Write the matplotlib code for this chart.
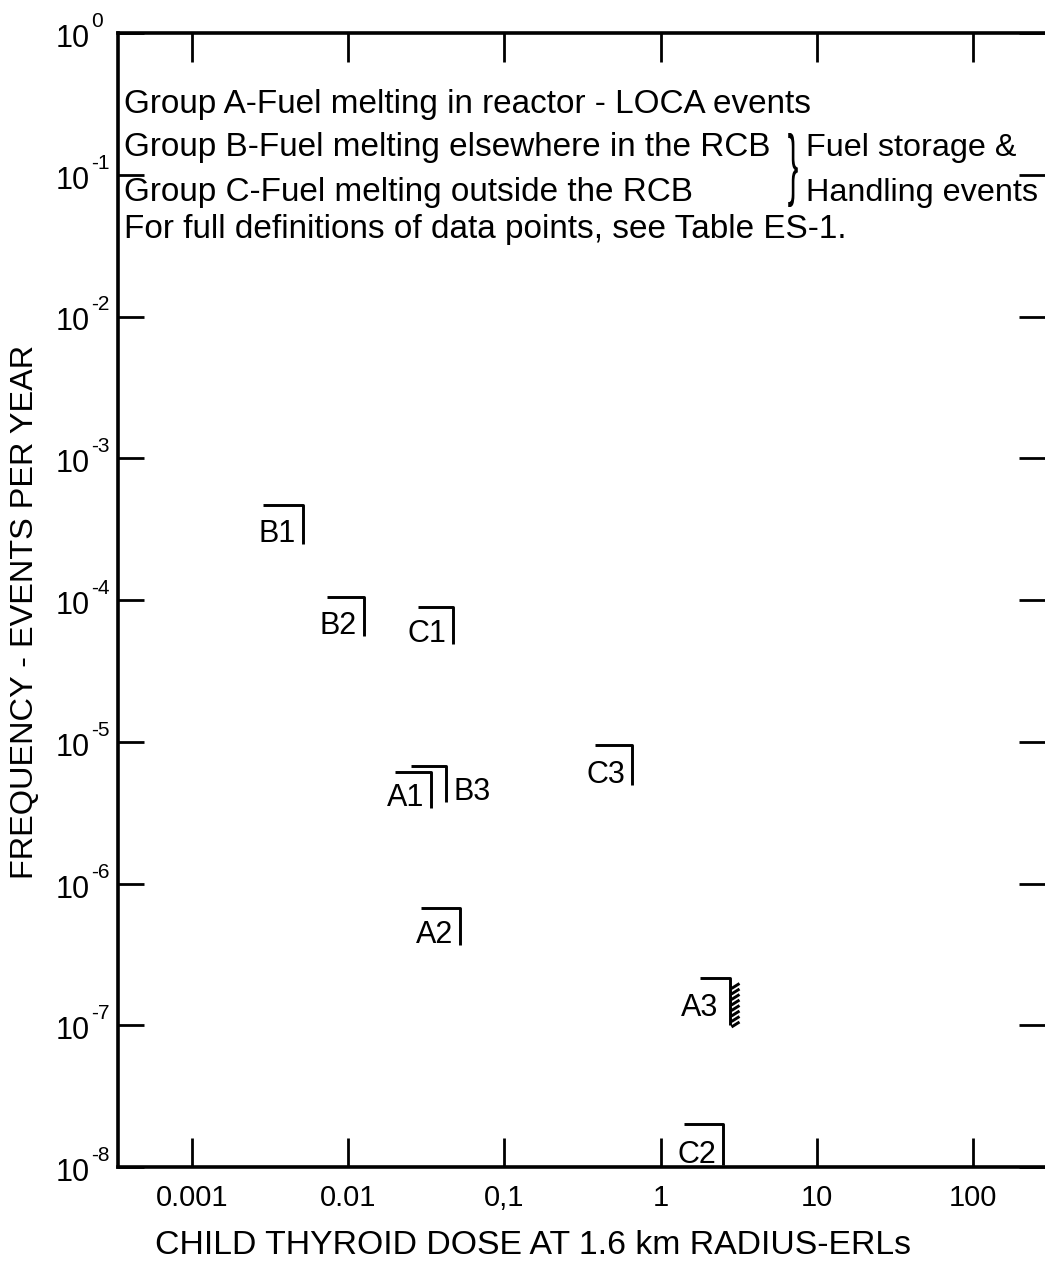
import numpy as np
import matplotlib
matplotlib.use('Agg')
import matplotlib.pyplot as plt
from matplotlib.path import Path
from matplotlib.markers import MarkerStyle
from matplotlib.textpath import TextPath
from matplotlib.patches import PathPatch
from matplotlib.font_manager import FontProperties
from matplotlib.ticker import NullLocator, FixedLocator, FixedFormatter
import matplotlib.transforms as mtransforms

# ---------------- data ----------------
labels = ['B1', 'B2', 'C1', 'A1', 'B3', 'C3', 'A2', 'A3', 'C2']
dose = [0.0051, 0.0126, 0.047, 0.034, 0.042, 0.66, 0.052, 2.8, 2.5]
freq = [4.7e-4, 1.05e-4, 8.9e-5, 6.1e-6, 6.75e-6, 9.5e-6, 6.7e-7, 2.15e-7, 2.0e-8]

x_ticks = [0.001, 0.01, 0.1, 1, 10, 100]
x_ticklabels = ['0.001', '0.01', '0,1', '1', '10', '100']
y_exponents = [0, -1, -2, -3, -4, -5, -6, -7, -8]
y_base = '10'
y_sup = ['0', '-1', '-2', '-3', '-4', '-5', '-6', '-7', '-8']

legend_lines = [
    'Group A-Fuel melting in reactor - LOCA events',
    'Group B-Fuel melting elsewhere in the RCB',
    'Group C-Fuel melting outside the RCB',
    'For full definitions of data points, see Table ES-1.',
]
legend_side = ['Fuel storage &', 'Handling events']
xlabel = 'CHILD THYROID DOSE AT 1.6 km RADIUS-ERLs'
ylabel = 'FREQUENCY - EVENTS PER YEAR'

# ---------------- style ----------------
W, H = 1045, 1279
REG = ['Liberation Sans', 'DejaVu Sans']
plt.rcParams['font.family'] = REG

fig = plt.figure(figsize=(W / 100, H / 100), dpi=100)
left_px, right_px, top_px, bot_px = 118, 1045, 33, 1167
ax = fig.add_axes([left_px / W, 1 - bot_px / H, (right_px - left_px) / W, (bot_px - top_px) / H])
ax.set_xscale('log')
ax.set_yscale('log')
ax.set_xlim(10 ** -3.474, 10 ** 2.461)
ax.set_ylim(1e-8, 1)
ax.spines['right'].set_visible(False)
for s in ['left', 'top', 'bottom']:
    ax.spines[s].set_linewidth(2.6)

ax.xaxis.set_major_locator(FixedLocator(x_ticks))
ax.xaxis.set_major_formatter(FixedFormatter(x_ticklabels))
ax.yaxis.set_major_locator(FixedLocator([10.0 ** e for e in y_exponents]))
ax.xaxis.set_minor_locator(NullLocator())
ax.yaxis.set_minor_locator(NullLocator())
ax.tick_params(axis='x', which='major', direction='in', length=21, width=2.0,
               top=True, bottom=True, labelsize=21, pad=12)
ax.tick_params(axis='y', which='major', direction='in', length=19, width=2.0,
               left=True, right=True, labelleft=False)

# y tick labels: "10" with a superscript exponent
for e, sup in zip(y_exponents, y_sup):
    ax.annotate(y_base, xy=(0, 10.0 ** e), xycoords=('axes fraction', 'data'),
                xytext=(-28, -6), textcoords='offset pixels', ha='right', va='center',
                fontsize=22)
    ax.annotate(sup, xy=(0, 10.0 ** e), xycoords=('axes fraction', 'data'),
                xytext=(-27, 6), textcoords='offset pixels', ha='left', va='baseline',
                fontsize=15)

# ---------------- markers ----------------
def bracket_path(w, h, hatched=False):
    verts = [(-w, 0), (0, 0), (0, -h)]
    codes = [Path.MOVETO, Path.LINETO, Path.LINETO]
    if hatched:
        for i in range(8):
            y0 = -5 - 5.5 * i
            verts += [(1, y0 - 5), (9, y0)]
            codes += [Path.MOVETO, Path.LINETO]
    return Path(verts, codes)

bw = {'B1': (40, 39), 'B2': (37, 39), 'C1': (35, 37), 'A1': (36, 36), 'B3': (35, 36),
      'C3': (37, 40), 'A2': (39, 37), 'A3': (30, 47), 'C2': (39, 41)}
lab_off = {'B3': (8, -34, 'left'), 'A3': (-12, -38, 'right')}

for lab, x, y in zip(labels, dose, freq):
    w, h = bw[lab]
    hatched = lab == 'A3'
    p = bracket_path(w, h, hatched)
    maxabs = np.max(np.abs(p.vertices))
    ax.plot([x], [y], ls='none', marker=MarkerStyle(p), ms=0.72 * 2 * maxabs,
            mew=2.1, mec='black', mfc='none')
    dx, dy, ha = lab_off.get(lab, (-7, -h + 2, 'right'))
    ax.annotate(lab, xy=(x, y), xytext=(dx, dy), textcoords='offset pixels',
                ha=ha, va='baseline', fontsize=22)

# ---------------- texts ----------------
def fx(px):
    return px / W

def fy(py):
    return 1 - py / H

fig.canvas.draw()
r = fig.canvas.get_renderer()

baselines = [113, 156, 201, 238]
ts = []
for line, b in zip(legend_lines, baselines):
    ts.append(fig.text(fx(124), fy(b), line, fontsize=22, va='baseline', ha='left'))
# common size chosen so that the Group B line ends just before the brace
scale = 645 / ts[1].get_window_extent(r).width
fs_leg = 22 * scale
for t in ts:
    t.set_fontsize(fs_leg)

side_x = [806, 806]
sides = []
for txt, b, sx in zip(legend_side, baselines[1:3], side_x):
    sides.append(fig.text(fx(sx), fy(b), txt, fontsize=fs_leg, va='baseline', ha='left'))
fig.canvas.draw()
sw = sides[1].get_window_extent(r).width
if 806 + sw > 1038:
    for t in sides:
        t.set_fontsize(fs_leg * (1038 - 806) / sw)

# brace joining the Group B / Group C lines
tp = TextPath((0, 0), '}', size=40, prop=FontProperties(family='Liberation Sans'))
ext = tp.get_extents()
sy = 74.0 / ext.height
tr = (mtransforms.Affine2D().translate(-(ext.x0 + ext.x1) / 2, -(ext.y0 + ext.y1) / 2)
      .scale(0.8, sy).translate(793, H - 170))
fig.add_artist(PathPatch(tp, transform=tr, fc='black', lw=0))

xl = fig.text(fx(533), fy(1245), xlabel, fontsize=26, ha='center', va='center')
w0 = xl.get_window_extent(r).width
xl.set_fontsize(26 * 757 / w0)

yl = fig.text(fx(25), fy(612), ylabel, fontsize=26, ha='center', va='center', rotation=90)
h0 = yl.get_window_extent(r).height
yl.set_fontsize(26 * 535 / h0)

fig.savefig('out.png', dpi=100, facecolor='white')
